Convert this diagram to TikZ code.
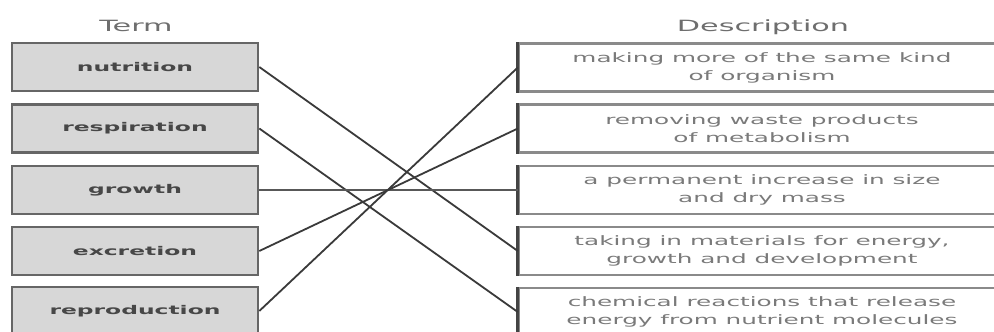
\documentclass[tikz,border=0pt]{standalone}
\usepackage{fontspec}
\setmainfont{DejaVu Sans}
\newfontfamily\descfont[FakeStretch=1.9]{DejaVu Sans}
\newfontfamily\termfont[FakeStretch=1.95]{DejaVu Sans Bold}
\newfontfamily\headfont[FakeStretch=1.95]{DejaVu Sans}
\definecolor{boxfill}{HTML}{D7D7D7}
\definecolor{termborder}{HTML}{666666}
\definecolor{descborder}{HTML}{8A8A8A}
\definecolor{descedge}{HTML}{444444}
\definecolor{termtext}{HTML}{474747}
\definecolor{desctext}{HTML}{7A7A7A}
\definecolor{headtext}{HTML}{6E6E6E}
\definecolor{linkcol}{HTML}{3A3A3A}
\tikzset{
  termbox/.style={draw=termborder, line width=2.6pt, fill=boxfill,
    minimum width=246pt, minimum height=48pt, inner sep=0pt,
    font=\termfont\fontsize{12}{14}\selectfont, text=termtext},
  descbox/.style={draw=descborder, line width=2.4pt, fill=white,
    minimum width=486pt, minimum height=48pt, inner sep=0pt, align=center,
    font=\descfont\fontsize{13}{18}\selectfont, text=desctext},
  header/.style={font=\headfont\fontsize{15.5}{18}\selectfont, text=headtext, anchor=base},
  link/.style={draw=linkcol, line width=1.8pt},
  thinlink/.style={draw=linkcol!85, line width=1.2pt}
}
\begin{document}
\begin{tikzpicture}[x=1pt,y=-1pt]
\useasboundingbox (0,0) rectangle (994,332);
\clip (0,0) rectangle (994,332);
\fill[white] (0,0) rectangle (994,332);
% headers
\node[header] (hterm) at (136,31) {Term};
\node[header] (hdesc) at (763,31) {Description};
% term boxes
\node[termbox] (t1) at (135,67) {nutrition};
\node[termbox] (t2) at (135,128.5) {respiration};
\node[termbox] (t3) at (135,190) {growth};
\node[termbox] (t4) at (135,251) {excretion};
\node[termbox] (t5) at (135,311) {reproduction};
% description boxes
\node[descbox] (d1) at (762,67.5) {making more of the same kind\\of organism};
\node[descbox] (d2) at (762,128.5) {removing waste products\\of metabolism};
\node[descbox] (d3) at (762,190) {a permanent increase in size\\and dry mass};
\node[descbox] (d4) at (762,251) {taking in materials for energy,\\growth and development};
\node[descbox] (d5) at (762,312) {chemical reactions that release\\energy from nutrient molecules};
% darker left edges of description boxes
\foreach \d in {d1,d2,d3,d4,d5}{
  \draw[descedge, line width=3.2pt] (\d.north west) -- (\d.south west);
}
% connectors
\draw[link] (t1.east) -- (d4.west);
\draw[link] (t2.east) -- (d5.west);
\draw[thinlink] (t3.east) -- (d3.west);
\draw[link] (t4.east) -- (d2.west);
\draw[link] (t5.east) -- (d1.west);
\end{tikzpicture}
\end{document}
